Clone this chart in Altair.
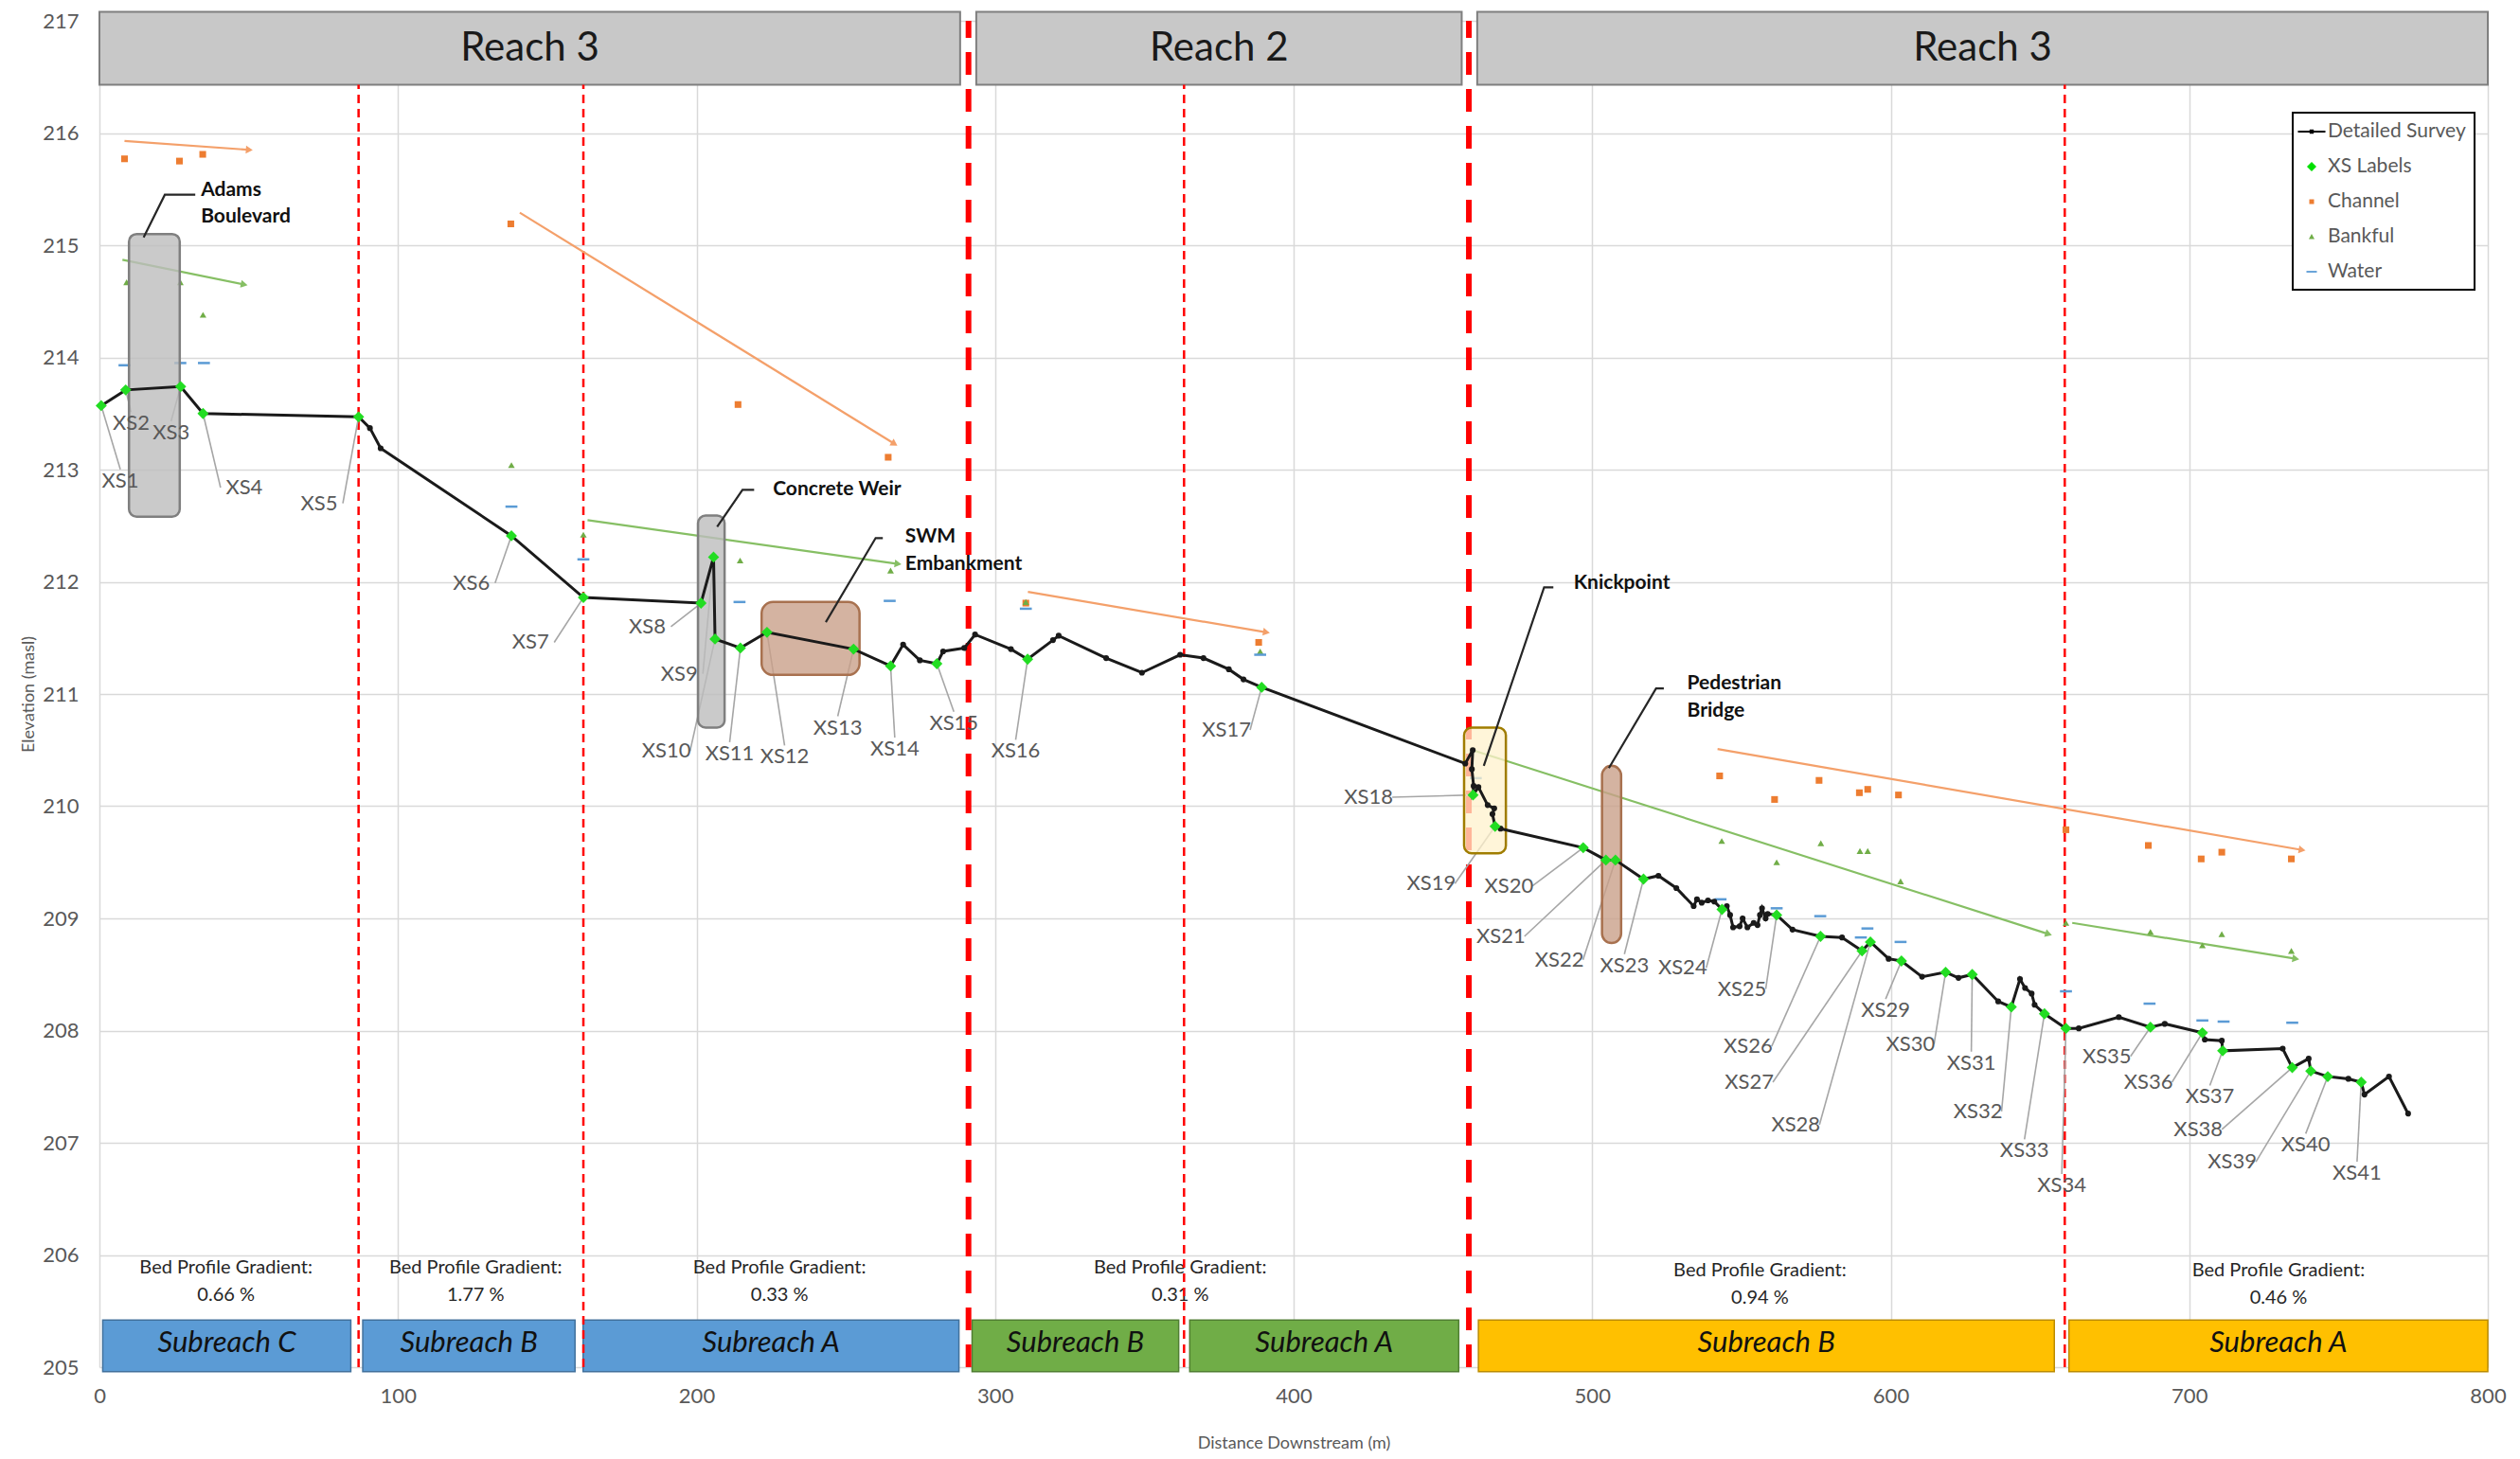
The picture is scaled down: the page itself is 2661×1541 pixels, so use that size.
import math
import altair as alt
import pandas as pd

# ---------------------------------------------------------------- layout
W, H = 2522, 1422
X_DOMAIN = [0, 800]
Y_DOMAIN = [205, 217]
FONT = "Lato"
GREY_TEXT = "#595959"

# ---------------------------------------------------------------- data
# Detailed survey of the bed profile (distance downstream m, elevation masl)
survey_x = [0.6, 8.8, 27.2, 34.7, 86.8, 90.6, 94.2, 138.0, 162.1, 201.5,
            205.7, 206.2, 214.7, 223.6, 252.6, 265.0, 269.2, 274.8, 280.5, 282.6,
            289.7, 293.3, 305.3, 310.9, 319.4, 321.3, 337.2, 349.2, 362.0, 369.8,
            378.3, 383.2, 389.3, 457.5, 460.0, 459.7, 460.3, 460.1, 461.9, 465.0,
            467.2, 466.6, 467.5, 469.3, 497.0, 504.6, 507.8, 517.2, 522.2, 528.2,
            534.0, 535.1, 536.7, 538.8, 540.9, 543.5, 545.1, 546.2, 547.2, 549.4,
            550.4, 552.0, 554.1, 555.4, 556.2, 556.9, 558.1, 558.8, 561.8, 567.1,
            576.5, 583.7, 590.4, 593.2, 599.3, 603.6, 610.5, 618.4, 622.7, 627.3,
            636.0, 640.4, 643.3, 645.0, 647.2, 648.2, 651.5, 658.7, 663.0, 676.4,
            687.0, 691.8, 704.4, 705.2, 710.9, 711.2, 731.3, 734.5, 740.0, 740.7,
            746.4, 753.3, 757.6, 758.7, 766.9, 773.3]
survey_y = [213.57, 213.71, 213.74, 213.50, 213.47, 213.37, 213.19, 212.41, 211.86, 211.81,
            212.22, 211.49, 211.41, 211.55, 211.40, 211.25, 211.44, 211.30, 211.27, 211.38,
            211.41, 211.53, 211.40, 211.31, 211.48, 211.52, 211.32, 211.19, 211.35, 211.32,
            211.22, 211.13, 211.06, 210.38, 210.50, 210.33, 210.18, 210.10, 210.17, 210.01,
            209.98, 209.93, 209.82, 209.80, 209.63, 209.52, 209.52, 209.35, 209.38, 209.27,
            209.11, 209.17, 209.14, 209.16, 209.15, 209.08, 209.11, 209.03, 208.92, 208.93,
            209.00, 208.92, 208.96, 208.94, 209.03, 209.09, 209.00, 209.04, 209.03, 208.90,
            208.84, 208.83, 208.71, 208.79, 208.64, 208.62, 208.48, 208.52, 208.47, 208.50,
            208.26, 208.21, 208.46, 208.38, 208.33, 208.23, 208.15, 208.02, 208.02, 208.12,
            208.03, 208.06, 207.98, 207.92, 207.91, 207.82, 207.84, 207.67, 207.75, 207.64,
            207.59, 207.57, 207.54, 207.43, 207.59, 207.26]

# Cross-section stations
xs_names = [f"XS{i}" for i in range(1, 42)]
xs_x = [0.6, 8.8, 27.2, 34.7, 86.8, 138.0, 162.1, 201.5, 205.7, 206.2,
        214.7, 223.6, 252.6, 265.0, 280.5, 310.9, 389.3, 460.1, 467.5, 497.0,
        504.6, 507.8, 517.2, 543.5, 561.8, 576.5, 590.4, 593.2, 603.6, 618.4,
        627.3, 640.4, 651.5, 658.7, 687.0, 704.4, 711.2, 734.5, 740.7, 746.4, 757.6]
xs_y = [213.57, 213.71, 213.74, 213.50, 213.47, 212.41, 211.86, 211.81, 212.22, 211.49,
        211.41, 211.55, 211.40, 211.25, 211.27, 211.31, 211.06, 210.10, 209.82, 209.63,
        209.52, 209.52, 209.35, 209.08, 209.03, 208.84, 208.71, 208.79, 208.62, 208.52,
        208.50, 208.21, 208.15, 208.02, 208.03, 207.98, 207.82, 207.67, 207.64, 207.59, 207.54]
xs_label_x = [7.0, 10.6, 24.0, 48.5, 73.6, 124.6, 144.4, 183.5, 194.2, 189.9,
              211.1, 229.5, 247.3, 266.4, 286.2, 306.9, 377.5, 425.1, 446.1, 472.1,
              469.4, 489.0, 510.8, 530.3, 550.2, 552.2, 552.6, 568.2, 598.3, 606.6,
              627.0, 629.2, 644.8, 657.3, 672.4, 686.3, 706.9, 703.0, 714.4, 739.0, 756.2]
xs_label_y = [212.90, 213.41, 213.33, 212.84, 212.70, 211.99, 211.46, 211.60, 211.18, 210.49,
              210.47, 210.44, 210.70, 210.51, 210.74, 210.49, 210.68, 210.08, 209.31, 209.29,
              208.84, 208.63, 208.58, 208.56, 208.37, 207.86, 207.54, 207.16, 208.18, 207.88,
              207.71, 207.28, 206.93, 206.62, 207.77, 207.54, 207.41, 207.12, 206.83, 206.98, 206.73]

# Channel, bankfull and water elevations
channel_x = [8.4, 26.8, 34.6, 137.8, 213.9, 264.2, 310.3, 388.3, 542.7, 561.1,
             576.0, 589.5, 592.3, 602.6, 658.7, 686.3, 704.0, 710.9, 734.2]
channel_y = [215.77, 215.75, 215.81, 215.19, 213.58, 213.11, 211.81, 211.46, 210.27, 210.06,
             210.23, 210.12, 210.15, 210.10, 209.79, 209.65, 209.53, 209.59, 209.53]
bankful_x = [9.1, 27.1, 34.7, 138.0, 162.1, 214.6, 265.0, 310.3, 388.8, 543.4,
             561.8, 576.6, 589.7, 592.3, 603.3, 658.7, 687.0, 704.4, 710.9, 734.2]
bankful_y = [214.67, 214.67, 214.38, 213.04, 212.42, 212.19, 212.10, 211.82, 211.38, 209.69,
             209.50, 209.67, 209.60, 209.60, 209.33, 208.96, 208.88, 208.76, 208.86, 208.71]
water_x = [8.4, 27.1, 35.0, 138.0, 162.1, 214.4, 264.7, 310.3, 388.8, 461.0,
           543.0, 561.8, 576.4, 590.0, 592.2, 603.3, 658.7, 686.7, 704.4, 711.5, 734.5]
water_y = [213.93, 213.95, 213.95, 212.67, 212.20, 211.82, 211.83, 211.76, 211.35, 210.25,
           209.17, 209.09, 209.02, 208.83, 208.91, 208.79, 208.35, 208.24, 208.09, 208.08, 208.07]

# Trend arrows (start -> end)
trend_series = ["Channel"] * 4 + ["Bankful"] * 4
trend_x0 = [8.4, 140.8, 311.0, 542.0, 7.7, 163.5, 459.9, 660.8]
trend_y0 = [215.93, 215.29, 211.91, 210.51, 214.87, 212.55, 210.50, 208.96]
trend_x1 = [50.2, 266.3, 390.9, 737.8, 48.5, 267.5, 652.9, 735.7]
trend_y1 = [215.85, 213.23, 211.55, 209.61, 214.65, 212.16, 208.86, 208.64]

# Reaches along the top
reach_names = ["Reach 3", "Reach 2", "Reach 3"]
reach_x0 = [0.0, 293.7, 461.5]
reach_x1 = [288.3, 456.3, 800.0]

# Subreaches along the bottom
sub_names = ["Subreach C", "Subreach B", "Subreach A", "Subreach B", "Subreach A", "Subreach B", "Subreach A"]
sub_group = ["upper", "upper", "upper", "middle", "middle", "lower", "lower"]
sub_x0 = [1.1, 88.2, 162.0, 292.3, 365.2, 461.9, 659.7]
sub_x1 = [84.2, 159.3, 287.9, 361.5, 455.3, 654.8, 800.0]

# Bed profile gradients
grad_x = [42.4, 126.0, 227.8, 362.0, 556.2, 729.9]
grad_y = [205.89, 205.89, 205.89, 205.89, 205.86, 205.86]
grad_value = ["0.66 %", "1.77 %", "0.33 %", "0.31 %", "0.94 %", "0.46 %"]

# Subreach and reach boundaries
minor_breaks = [86.8, 162.1, 363.3, 658.3]
major_breaks = [291.1, 458.7]

# Structures and features
feat_names = ["Adams Boulevard", "Concrete Weir", "SWM Embankment", "Knickpoint", "Pedestrian Bridge"]
feat_kind = ["structure", "structure", "embankment", "knickpoint", "embankment"]
feat_x0 = [9.9, 200.5, 221.8, 457.1, 503.3]
feat_x1 = [26.9, 209.4, 254.6, 471.1, 509.7]
feat_y0 = [212.58, 210.70, 211.17, 209.58, 208.78]
feat_y1 = [215.10, 212.59, 211.82, 210.70, 210.36]
feat_leader_x = [[14.8, 21.9, 32.1], [206.9, 215.4, 219.3], [243.3, 260.0, 262.4],
                 [463.7, 483.9, 487.0], [505.6, 521.4, 524.0]]
feat_leader_y = [[215.07, 215.45, 215.45], [212.49, 212.82, 212.82], [211.64, 212.39, 212.39],
                 [210.36, 211.95, 211.95], [210.34, 211.05, 211.05]]
feat_text_lines = [["Adams", "Boulevard"], ["Concrete Weir"], ["SWM", "Embankment"],
                   ["Knickpoint"], ["Pedestrian", "Bridge"]]
feat_text_x = [34.0, 225.6, 269.9, 493.8, 531.8]
feat_text_y = [215.49, 212.82, 212.40, 211.99, 211.09]

legend_series = ["Detailed Survey", "XS Labels", "Channel", "Bankful", "Water"]

# ---------------------------------------------------------------- styles
COL_SURVEY = "#1a1a1a"
COL_XS = "#22DD22"
COL_CHANNEL = "#ED7D31"
COL_BANKFUL = "#70AD47"
COL_WATER = "#5B9BD5"
COL_CH_TREND = "#F4A06A"
COL_BK_TREND = "#86BF64"
SUB_STYLE = {"upper": ("#5B9BD5", "#41719C"), "middle": ("#70AD47", "#507E32"),
             "lower": ("#FFC000", "#BC8C00")}
FEAT_STYLE = {"structure": ("#BDBDBD", "#7F7F7F", 0.8, 8),
              "embankment": ("#C9A089", "#A8714F", 0.8, 12),
              "knickpoint": ("#FFF2CC", "#A07D00", 0.75, 8)}
REACH_TOP, REACH_BOTTOM = 217.08, 216.43
SUB_TOP, SUB_BOTTOM = 205.42, 204.96

px_per_m = W / (X_DOMAIN[1] - X_DOMAIN[0])
px_per_masl = H / (Y_DOMAIN[1] - Y_DOMAIN[0])

xscale = alt.Scale(domain=X_DOMAIN, nice=False, zero=False)
yscale = alt.Scale(domain=Y_DOMAIN, nice=False, zero=False)
common_axis = dict(grid=True, ticks=False, domain=False, labelFont=FONT, labelFontSize=22,
                   labelColor=GREY_TEXT, titleFont=FONT, titleFontSize=18,
                   titleFontWeight="normal", titleColor=GREY_TEXT,
                   gridColor="#D9D9D9", gridWidth=1.5, labelFlush=False)
xaxis = alt.Axis(values=list(range(0, 801, 100)), title="Distance Downstream (m)",
                 labelPadding=20, titlePadding=30, **common_axis)
yaxis = alt.Axis(values=list(range(205, 218)), title="Elevation (masl)",
                 labelPadding=22, titlePadding=5, **common_axis)


def X(f):
    return alt.X(f, type="quantitative", scale=xscale, axis=xaxis)


def Y(f):
    return alt.Y(f, type="quantitative", scale=yscale, axis=yaxis)


layers = []

# reach header boxes
reach_df = pd.DataFrame({"name": reach_names, "x0": reach_x0, "x1": reach_x1})
reach_df["top"] = REACH_TOP
reach_df["bottom"] = REACH_BOTTOM
reach_df["xm"] = (reach_df.x0 + reach_df.x1) / 2
reach_df["ym"] = (reach_df.top + reach_df.bottom) / 2
layers.append(alt.Chart(reach_df).mark_rect(fill="#C8C8C8", stroke="#7F7F7F", strokeWidth=2).encode(
    x=X("x0"), x2="x1", y=Y("bottom"), y2="top"))
layers.append(alt.Chart(reach_df).mark_text(font=FONT, fontSize=42, color="#1a1a1a").encode(
    x=X("xm"), y=Y("ym"), text="name:N"))

# subreach bands
sub_df = pd.DataFrame({"name": sub_names, "group": sub_group, "x0": sub_x0, "x1": sub_x1})
sub_df["top"] = SUB_TOP
sub_df["bottom"] = SUB_BOTTOM
sub_df["xm"] = (sub_df.x0 + sub_df.x1) / 2
sub_df["ym"] = (SUB_TOP + 205.0) / 2
for grp, (fill, stroke) in SUB_STYLE.items():
    layers.append(alt.Chart(sub_df[sub_df.group == grp]).mark_rect(
        fill=fill, stroke=stroke, strokeWidth=1.5).encode(
        x=X("x0"), x2="x1", y=Y("bottom"), y2="top"))
layers.append(alt.Chart(sub_df).mark_text(font=FONT, fontSize=31, fontStyle="italic",
                                           color="#111111").encode(
    x=X("xm"), y=Y("ym"), text="name:N"))

# gradient captions
grad_df = pd.DataFrame({"x": grad_x, "y": grad_y, "value": grad_value})
grad_df["caption"] = "Bed Profile Gradient:"
grad_df["y2"] = grad_df.y - 0.245
layers.append(alt.Chart(grad_df).mark_text(font=FONT, fontSize=20, color="#262626").encode(
    x=X("x"), y=Y("y"), text="caption:N"))
layers.append(alt.Chart(grad_df).mark_text(font=FONT, fontSize=20, color="#262626").encode(
    x=X("x"), y=Y("y2"), text="value:N"))

# reach / subreach boundary lines
minor_df = pd.DataFrame({"x": minor_breaks})
minor_df["y0"] = 205.0
minor_df["y1"] = REACH_BOTTOM
layers.append(alt.Chart(minor_df).mark_rule(color="#FF0000", strokeWidth=2.5, strokeDash=[9, 6]).encode(
    x=X("x"), y=Y("y0"), y2="y1"))
major_df = pd.DataFrame({"x": major_breaks})
major_df["y0"] = 205.0
major_df["y1"] = 217.0
layers.append(alt.Chart(major_df).mark_rule(color="#FF0000", strokeWidth=6, strokeDash=[24, 15]).encode(
    x=X("x"), y=Y("y0"), y2="y1"))

# trend arrows
trend_df = pd.DataFrame({"series": trend_series, "x0": trend_x0, "y0": trend_y0,
                         "x1": trend_x1, "y1": trend_y1})
trend_df["angle"] = [
    math.degrees(math.atan2(-(b1 - b0) * px_per_masl, (a1 - a0) * px_per_m)) % 360
    for a0, b0, a1, b1 in zip(trend_df.x0, trend_df.y0, trend_df.x1, trend_df.y1)]
for series, col in (("Channel", COL_CH_TREND), ("Bankful", COL_BK_TREND)):
    sub = trend_df[trend_df.series == series]
    layers.append(alt.Chart(sub).mark_rule(color=col, strokeWidth=2.2).encode(
        x=X("x0"), x2="x1", y=Y("y0"), y2="y1"))
    layers.append(alt.Chart(sub).mark_point(shape="triangle-right", filled=True, color=col,
                                            size=70, opacity=1).encode(
        x=X("x1"), y=Y("y1"), angle=alt.Angle("angle:Q", scale=None)))

# channel / bankfull / water markers
layers.append(alt.Chart(pd.DataFrame({"x": channel_x, "y": channel_y})).mark_point(
    shape="square", filled=True, color=COL_CHANNEL, size=50, opacity=1).encode(x=X("x"), y=Y("y")))
layers.append(alt.Chart(pd.DataFrame({"x": bankful_x, "y": bankful_y})).mark_point(
    shape="triangle-up", filled=True, color=COL_BANKFUL, size=50, opacity=1).encode(x=X("x"), y=Y("y")))
layers.append(alt.Chart(pd.DataFrame({"x": water_x, "y": water_y})).mark_point(
    shape="stroke", filled=False, color=COL_WATER, size=160, strokeWidth=2.5, opacity=1).encode(
    x=X("x"), y=Y("y")))

# cross-section label leaders
xs_df = pd.DataFrame({"name": xs_names, "x": xs_x, "y": xs_y, "lx": xs_label_x, "ly": xs_label_y})
half_w, half_h = 25.0, 12.0
lead_rows = []
for r in xs_df.itertuples():
    dxp = (r.x - r.lx) * px_per_m
    dyp = (r.y - r.ly) * px_per_masl
    if abs(dxp) > half_w + 3:
        sx, sy = r.lx + math.copysign(half_w, dxp) / px_per_m, r.ly
    else:
        sx, sy = r.lx, r.ly + math.copysign(half_h, dyp) / px_per_masl
    if math.hypot((r.x - sx) * px_per_m, (r.y - sy) * px_per_masl) > 10:
        lead_rows.append({"sx": sx, "sy": sy, "x": r.x, "y": r.y})
lead_df = pd.DataFrame(lead_rows)
layers.append(alt.Chart(lead_df).mark_rule(color="#A6A6A6", strokeWidth=1.6).encode(
    x=X("sx"), x2="x", y=Y("sy"), y2="y"))

# structure boxes
feat_df = pd.DataFrame({"name": feat_names, "kind": feat_kind, "x0": feat_x0, "x1": feat_x1,
                        "y0": feat_y0, "y1": feat_y1})
for kind, (fill, stroke, op, rad) in FEAT_STYLE.items():
    layers.append(alt.Chart(feat_df[feat_df.kind == kind]).mark_rect(
        fill=fill, stroke=stroke, strokeWidth=2.5, fillOpacity=op, cornerRadius=rad).encode(
        x=X("x0"), x2="x1", y=Y("y0"), y2="y1"))

# detailed survey
survey_df = pd.DataFrame({"x": survey_x, "y": survey_y})
survey_df["i"] = range(len(survey_df))
layers.append(alt.Chart(survey_df).mark_line(color=COL_SURVEY, strokeWidth=3).encode(
    x=X("x"), y=Y("y"), order="i:Q"))
layers.append(alt.Chart(survey_df).mark_circle(color=COL_SURVEY, size=38, opacity=1).encode(
    x=X("x"), y=Y("y")))

# cross-section markers and labels
layers.append(alt.Chart(xs_df).mark_point(shape="diamond", filled=True, color=COL_XS,
                                          size=140, opacity=1).encode(x=X("x"), y=Y("y")))
layers.append(alt.Chart(xs_df).mark_text(font=FONT, fontSize=22, color=GREY_TEXT).encode(
    x=X("lx"), y=Y("ly"), text="name:N"))

# feature call-outs
lead_pts = []
for name, lxs, lys in zip(feat_names, feat_leader_x, feat_leader_y):
    for k, (a, b) in enumerate(zip(lxs, lys)):
        lead_pts.append({"name": name, "k": k, "x": a, "y": b})
layers.append(alt.Chart(pd.DataFrame(lead_pts)).mark_line(color="#262626", strokeWidth=2.2).encode(
    x=X("x"), y=Y("y"), detail="name:N", order="k:Q"))
text_rows = []
for lines, tx, ty in zip(feat_text_lines, feat_text_x, feat_text_y):
    for k, line in enumerate(lines):
        text_rows.append({"text": line, "x": tx, "y": ty - k * 0.24})
layers.append(alt.Chart(pd.DataFrame(text_rows)).mark_text(
    font=FONT, fontSize=21, fontWeight="bold", color="#111111", align="left").encode(
    x=X("x"), y=Y("y"), text="text:N"))

# legend
legend_shapes = [
    "M-1.45,-0.1L1.45,-0.1L1.45,0.1L-1.45,0.1Z M-0.22,-0.22L0.22,-0.22L0.22,0.22L-0.22,0.22Z",
    "M0,-0.5L0.5,0L0,0.5L-0.5,0Z",
    "M-0.25,-0.25L0.25,-0.25L0.25,0.25L-0.25,0.25Z",
    "M0,-0.3L0.3,0.25L-0.3,0.25Z",
    "M-0.55,-0.09L0.55,-0.09L0.55,0.09L-0.55,0.09Z",
]
legend_colors = ["#000000", "#00E000", COL_CHANNEL, COL_BANKFUL, COL_WATER]
leg = alt.Legend(title=None, orient="none", legendX=2316, legendY=97, direction="vertical",
                 labelFont=FONT, labelFontSize=21, labelColor=GREY_TEXT, labelOffset=6,
                 rowPadding=16, padding=9, strokeColor="#000000", fillColor="#FFFFFF",
                 symbolSize=400, symbolOpacity=1)
legend_df = pd.DataFrame({"series": legend_series})
legend_df["x"] = survey_x[0]
legend_df["y"] = survey_y[0]
layers.append(alt.Chart(legend_df).mark_point(filled=True, opacity=0).encode(
    x=X("x"), y=Y("y"),
    color=alt.Color("series:N", scale=alt.Scale(domain=legend_series, range=legend_colors), legend=leg),
    shape=alt.Shape("series:N", scale=alt.Scale(domain=legend_series, range=legend_shapes), legend=leg)))

chart = alt.layer(*layers).properties(
    width=W, height=H,
    padding={"left": 105, "top": 22, "right": 34, "bottom": 97},
    autosize=alt.AutoSizeParams(type="none"),
    background="#FFFFFF",
).configure_view(stroke=None).configure_legend(strokeWidth=2)

chart.save("out.html", embed_options={"renderer": "svg", "actions": False})
